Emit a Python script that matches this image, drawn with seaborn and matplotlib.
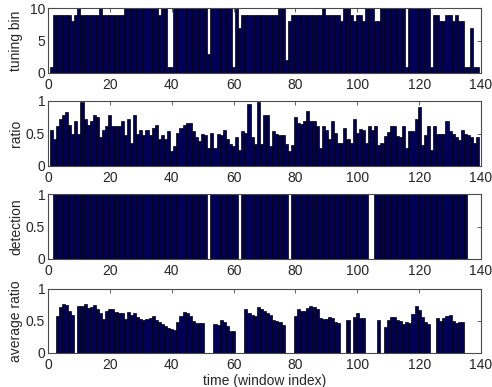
import matplotlib
matplotlib.use("Agg")
import matplotlib.pyplot as plt
import numpy as np
import pandas as pd
import seaborn as sns

# ---------------- data ----------------
window = list(range(1, 140))

tuning_bin = [1, 9, 9, 9, 9, 9, 9, 8, 9, 10,
              9, 9, 9, 9, 9, 9, 10, 9, 9, 9, 9, 9, 9, 9,
              10, 10, 10, 10, 10, 10, 10, 10, 10, 10, 10, 9, 10, 10, 1, 1,
              10, 10, 10, 10, 10, 10, 10, 10, 10, 10, 10, 3,
              10, 10, 10, 10, 10, 10, 10, 1, 10, 7,
              9, 9, 9, 9, 9, 9, 9, 9, 9, 9, 9, 9, 10, 10, 2, 8,
              9, 9, 9, 9, 9, 9, 9, 9, 9, 9, 10, 9, 9, 9, 9, 9, 8, 10, 10,
              9, 8, 9, 9, 8, 10, 10, 10, 8, 8,
              10, 10, 10, 10, 10, 10, 10, 10, 1, 10, 10, 10, 10, 10, 10, 10, 1,
              9, 9, 8, 8, 9, 9, 8, 9, 8, 8, 1, 1, 7, 1, 1]

ratio = [0.56, 0.41, 0.61, 0.72, 0.79, 0.83, 0.63, 0.49, 0.69, 0.49,
         0.98, 0.73, 0.63, 0.70, 0.79, 0.76, 0.45, 0.55, 0.62, 0.79,
         0.62, 0.62, 0.62, 0.69, 0.47, 0.73, 0.36, 0.79, 0.49, 0.55,
         0.47, 0.55, 0.47, 0.59, 0.63, 0.41, 0.47, 0.41, 0.54, 0.23,
         0.31, 0.51, 0.58, 0.63, 0.66, 0.66, 0.54, 0.45, 0.39, 0.50,
         0.47, 0.27, 0.51, 0.28, 0.50, 0.48, 0.55, 0.41, 0.34, 0.30,
         0.44, 0.25, 0.54, 0.51, 0.95, 0.44, 0.34, 0.98, 0.34,
         0.79, 0.79, 0.31, 0.54, 0.49, 0.47, 0.47, 0.34, 0.23, 0.32,
         0.76, 0.66, 0.65, 0.70, 0.84, 0.69, 0.69, 0.62, 0.28, 0.61,
         0.56, 0.42, 0.69, 0.51, 0.36, 0.36, 0.58, 0.42, 0.36, 0.73,
         0.51, 0.57, 0.55, 0.36, 0.62, 0.55, 0.62, 0.32, 0.36, 0.46,
         0.52, 0.62, 0.62, 0.46, 0.44, 0.61, 0.27, 0.54, 0.54, 0.73,
         0.91, 0.32, 0.48, 0.62, 0.24, 0.61, 0.49, 0.49, 0.49, 0.69,
         0.54, 0.49, 0.44, 0.40, 0.55, 0.49, 0.47, 0.45, 0.36, 0.44]

detection = ([0] + [1] * 50 + [0] + [1] * 9 + [0] + [1] * 15 + [0]
             + [1] * 25 + [0, 0] + [1] * 30 + [0] * 4)

average_ratio = ([0, 0, 0.58, 0.72, 0.77, 0.75, 0.66, 0.60, 0,
                  0.73, 0.74, 0.76, 0.70, 0.72, 0.75, 0.69, 0.63, 0.53, 0.66,
                  0.68, 0.68, 0.64, 0.63, 0.62, 0.53, 0.64, 0.59, 0.62, 0.57,
                  0.53, 0.52, 0.53, 0.55, 0.58, 0.52, 0.49, 0.46, 0.42, 0.39,
                  0.37, 0.36, 0.48, 0.58, 0.64, 0.63, 0.58, 0.50, 0.47, 0.47,
                  0.47, 0, 0, 0,
                  0.46, 0.44, 0.52, 0.48, 0.42, 0.35, 0.35, 0, 0, 0,
                  0.68, 0.63, 0.60, 0.58, 0.72, 0.68, 0.66, 0.62, 0.59, 0.51,
                  0.50, 0.49, 0.43, 0, 0, 0,
                  0.58, 0.69, 0.65, 0.65, 0.71, 0.73, 0.72, 0.68, 0.55, 0.53,
                  0.53, 0.57, 0.54, 0.49, 0.47, 0, 0, 0.51, 0,
                  0.56, 0.63, 0.55, 0.54, 0, 0, 0, 0, 0.51, 0,
                  0.41, 0.51, 0.57, 0.57, 0.51, 0.50, 0.45, 0.48, 0.47, 0.61,
                  0.74, 0.67, 0.57, 0.49, 0.46, 0, 0,
                  0.54, 0.50, 0.55, 0.58, 0.59, 0.50, 0.47, 0.48, 0.49,
                  0, 0, 0, 0, 0])

for s in (tuning_bin, ratio, detection, average_ratio):
    assert len(s) == len(window), len(s)

panels = [
    ("tuning bin", tuning_bin, 10, [0, 5, 10], ["0", "5", "10"]),
    ("ratio", ratio, 1, [0, 0.5, 1], ["0", "0.5", "1"]),
    ("detection", detection, 1, [0, 0.5, 1], ["0", "0.5", "1"]),
    ("average ratio", average_ratio, 1, [0, 0.5, 1], ["0", "0.5", "1"]),
]
xticks = [0, 20, 40, 60, 80, 100, 120, 140]

# ---------------- style ----------------
sns.set_style("white")
plt.rcParams['font.family'] = ['Liberation Sans', 'DejaVu Sans']

BAR = "#00005a"
TXT = "#262626"
FRAME = "#4a4a4a"

W, H = 492, 387
fig = plt.figure(figsize=(W / 100, H / 100), dpi=100)

tops = [8, 101, 194, 289]
bots = [73, 166, 259, 353]
left, right = 48, 481

for (lab, vals, ymax, yt, ytl), t, b in zip(panels, tops, bots):
    ax = fig.add_axes([left / W, 1 - b / H, (right - left) / W, (b - t) / H])
    df = pd.DataFrame({"window": window, "value": vals})
    sns.barplot(data=df, x="window", y="value", native_scale=True, width=1.0,
                color=BAR, saturation=1, edgecolor="black", linewidth=0.5,
                errorbar=None, ax=ax)
    ax.set_xlim(0, 140)
    ax.set_ylim(0, ymax)
    ax.set_xticks(xticks)
    ax.set_xticklabels([str(v) for v in xticks])
    ax.set_yticks(yt)
    ax.set_yticklabels(ytl)
    ax.tick_params(axis="both", direction="in", top=True, right=True,
                   length=3, width=0.6, color=FRAME, labelsize=10,
                   labelcolor=TXT)
    ax.tick_params(axis="x", pad=3.5)
    ax.tick_params(axis="y", pad=2)
    for sp in ax.spines.values():
        sp.set_visible(True)
        sp.set_color(FRAME)
        sp.set_linewidth(0.8)
    ax.set_ylabel(lab, fontsize=10, color=TXT)
    ax.yaxis.set_label_coords(-0.058, 0.5)
    ax.set_xlabel("")

ax.set_xlabel("time (window index)", fontsize=10, color=TXT)
ax.xaxis.set_label_coords(0.5, -0.335)

fig.savefig("out.png", dpi=100)
